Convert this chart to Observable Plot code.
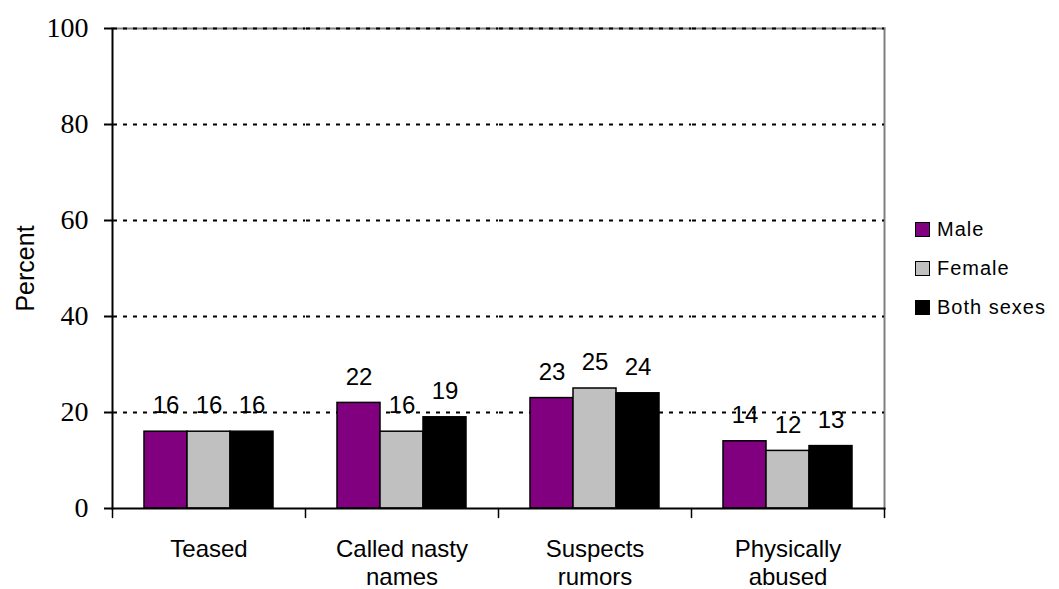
<!DOCTYPE html>
<html>
<head>
<meta charset="utf-8">
<script src="https://cdn.jsdelivr.net/npm/d3@7"></script>
<script src="https://cdn.jsdelivr.net/npm/@observablehq/plot@0.6"></script>
<style>
  html, body { margin: 0; padding: 0; background: #fff; }
  #chart { position: relative; width: 1059px; height: 589px; }
  #legend {
    position: absolute; left: 915px; top: 210px;
    font-family: "Liberation Sans", Arial, sans-serif; font-size: 20px; letter-spacing: 1px;
    color: #000;
  }
  #legend .item { display: flex; align-items: center; height: 39px; }
  #legend .sw { width: 13px; height: 13px; border: 1.5px solid #000; margin-right: 7px; }
</style>
</head>
<body>
<div id="chart"></div>
<script>
// Bullying experiences by sex, percent
const categories = ["Teased", "Called nasty names", "Suspects rumors", "Physically abused"];
const categoryLabels = ["Teased", "Called nasty\nnames", "Suspects\nrumors", "Physically\nabused"];
const series = ["Male", "Female", "Both sexes"];
const colors = ["#800080", "#C0C0C0", "#000000"];
const male = [16, 22, 23, 14];
const female = [16, 16, 25, 12];
const both = [16, 19, 24, 13];
const yTicks = [0, 20, 40, 60, 80, 100];
const gridTicks = [20, 40, 60, 80, 100];

const values = [male, female, both];
const rows = [];
categories.forEach((c, i) => series.forEach((s, j) => rows.push({category: c, series: s, value: values[j][i]})));

const sans = "'Liberation Sans', Arial, sans-serif";
const serif = "'Liberation Serif', 'DejaVu Serif', serif";

// short vertical stroke used for the category boundary ticks
const tickShape = { draw(context, l) { context.moveTo(0, 0); context.lineTo(0, -l); } };

const plot = Plot.plot({
  width: 1059,
  height: 589,
  marginLeft: 110,
  marginRight: 174,
  marginTop: 28,
  marginBottom: 81,
  style: { background: "#fff", color: "#000" },
  fx: { domain: categories, padding: 0, axis: null },
  x: { domain: series, paddingInner: 0, paddingOuter: 0.74, axis: null },
  y: { domain: [0, 100], axis: null },
  color: { domain: series, range: colors },
  marks: [
    // plot-area border (top and right, gray)
    Plot.frame({ anchor: "top", facet: "super", stroke: "#808080", strokeWidth: 2 }),
    Plot.frame({ anchor: "right", facet: "super", stroke: "#808080", strokeWidth: 2 }),
    // dotted gridlines
    Plot.ruleY(gridTicks, { y: d => d, stroke: "#000", strokeWidth: 2, strokeDasharray: "4,6", strokeDashoffset: -1 }),
    // bars
    Plot.barY(rows, { fx: "category", x: "series", y: "value", fill: "series", stroke: "#000", strokeWidth: 1.5 }),
    // value labels
    Plot.text(rows, { fx: "category", x: "series", y: "value", text: d => String(d.value), dy: -26, lineAnchor: "middle", fontFamily: sans, fontSize: 24, fill: "#000" }),
    // axis lines
    Plot.frame({ anchor: "left", facet: "super", stroke: "#000", strokeWidth: 2 }),
    Plot.frame({ anchor: "bottom", facet: "super", stroke: "#000", strokeWidth: 2 }),
    // y axis ticks and labels
    Plot.axisY(yTicks, { tickSize: 8, tickPadding: 16, fontFamily: serif, fontSize: 28, strokeWidth: 2, label: null }),
    // y axis title
    Plot.text(["Percent"], { facet: "super", frameAnchor: "left", textAnchor: "middle", rotate: -90, dx: -87, fontFamily: sans, fontSize: 25, fill: "#000" }),
    // category boundary ticks
    Plot.vector(categories, { fx: d => d, frameAnchor: "bottom-left", length: 9, rotate: 180, anchor: "start", shape: tickShape, stroke: "#000", strokeWidth: 1.5 }),
    Plot.vector([0], { facet: "super", frameAnchor: "bottom-right", length: 9, rotate: 180, anchor: "start", shape: tickShape, stroke: "#000", strokeWidth: 1.5 }),
    // category labels
    Plot.text(categories, { fx: d => d, frameAnchor: "bottom", text: d => categoryLabels[categories.indexOf(d)], dy: 29, lineAnchor: "top", lineHeight: 1.15, fontFamily: sans, fontSize: 24, fill: "#000" })
  ]
});

const chart = document.getElementById("chart");
chart.appendChild(plot);

// legend
const legend = document.createElement("div");
legend.id = "legend";
series.forEach((s, i) => {
  const item = document.createElement("div");
  item.className = "item";
  const sw = document.createElement("span");
  sw.className = "sw";
  sw.style.background = colors[i];
  const label = document.createElement("span");
  label.textContent = s;
  item.appendChild(sw);
  item.appendChild(label);
  legend.appendChild(item);
});
chart.appendChild(legend);
</script>
</body>
</html>
